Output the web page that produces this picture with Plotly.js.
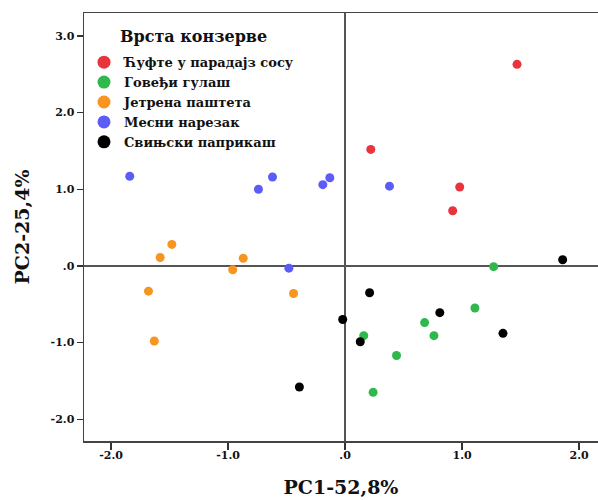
<!DOCTYPE html>
<html>
<head>
<meta charset="utf-8">
<script src="https://cdn.plot.ly/plotly-3.0.1.min.js"></script>
<style>
  html, body { margin: 0; padding: 0; background: #fff; }
  #chart { width: 598px; height: 500px; }
</style>
</head>
<body>
<div id="chart"></div>
<script>
// PCA scores of canned meat products, grouped by product type
const groupNames = [
  "Ћуфте у парадајз сосу",
  "Говеђи гулаш",
  "Јетрена паштета",
  "Месни нарезак",
  "Свињски паприкаш"
];
const groupColors = ["#e8343c", "#2fb84c", "#f7951f", "#5c5cf6", "#000000"];

const pc1Cufte = [1.47, 0.22, 0.98, 0.92];
const pc2Cufte = [2.63, 1.52, 1.03, 0.72];

const pc1Gulas = [1.27, 1.11, 0.68, 0.76, 0.16, 0.44, 0.24];
const pc2Gulas = [-0.01, -0.55, -0.74, -0.91, -0.91, -1.17, -1.65];

const pc1Pasteta = [-1.48, -1.58, -0.87, -0.96, -1.68, -0.44, -1.63];
const pc2Pasteta = [0.28, 0.11, 0.10, -0.05, -0.33, -0.36, -0.98];

const pc1Narezak = [-1.84, -0.62, -0.74, -0.13, -0.19, -0.48, 0.38];
const pc2Narezak = [1.17, 1.16, 1.00, 1.15, 1.06, -0.03, 1.04];

const pc1Paprikas = [1.86, 0.21, -0.02, 0.81, 0.13, 1.35, -0.39];
const pc2Paprikas = [0.08, -0.35, -0.70, -0.61, -0.99, -0.88, -1.58];

const xTickVals = [-2, -1, 0, 1, 2];
const xTickText = ["-2.0", "-1.0", ".0", "1.0", "2.0"];
const yTickVals = [-2, -1, 0, 1, 2, 3];
const yTickText = ["-2.0", "-1.0", ".0", "1.0", "2.0", "3.0"];

const legendTitle = "Врста конзерве";
const xTitle = "PC1-52,8%";
const yTitle = "PC2-25,4%";

const serif = "'DejaVu Serif', 'Liberation Serif', serif";

const series = [
  [pc1Cufte, pc2Cufte],
  [pc1Gulas, pc2Gulas],
  [pc1Pasteta, pc2Pasteta],
  [pc1Narezak, pc2Narezak],
  [pc1Paprikas, pc2Paprikas]
];

const traces = [];
// scatter points
series.forEach(function (s, i) {
  traces.push({
    type: "scatter",
    mode: "markers",
    x: s[0],
    y: s[1],
    name: groupNames[i],
    showlegend: false,
    marker: { color: groupColors[i], size: 9, line: { width: 0 } },
    hoverinfo: "x+y+name"
  });
});
// legend entries with larger symbols
groupNames.forEach(function (n, i) {
  traces.push({
    type: "scatter",
    mode: "markers",
    x: [null],
    y: [null],
    name: n,
    showlegend: true,
    marker: { color: groupColors[i], size: 13, line: { width: 0 } }
  });
});

const layout = {
  width: 598,
  height: 500,
  margin: { l: 84, r: 0, t: 13, b: 59 },
  paper_bgcolor: "#ffffff",
  plot_bgcolor: "#ffffff",
  font: { family: serif, color: "#111111" },
  showlegend: true,
  legend: {
    x: 0.0, y: 0.92, xanchor: "left", yanchor: "top",
    bgcolor: "rgba(0,0,0,0)",
    font: { family: serif, size: 13, color: "#111111", weight: "bold" },
    tracegroupgap: 0,
    itemwidth: 30
  },
  xaxis: {
    range: [-2.231, 2.162],
    tickvals: xTickVals,
    ticktext: xTickText,
    ticks: "outside",
    ticklen: 7,
    tickwidth: 1.3,
    tickcolor: "#333",
    ticklabelstandoff: -4,
    showgrid: false,
    zeroline: true,
    zerolinecolor: "#555",
    zerolinewidth: 1.5,
    showline: true,
    linecolor: "#444",
    linewidth: 1.5,
    mirror: true,
    tickfont: { family: serif, size: 11, color: "#111", weight: "bold" },
    title: { text: xTitle, font: { family: serif, size: 19, color: "#111", weight: "bold" }, standoff: 20 }
  },
  yaxis: {
    range: [-2.285, 3.30],
    tickvals: yTickVals,
    ticktext: yTickText,
    ticks: "outside",
    ticklen: 6,
    tickwidth: 1.3,
    tickcolor: "#333",
    showgrid: false,
    zeroline: true,
    zerolinecolor: "#555",
    zerolinewidth: 1.5,
    showline: true,
    linecolor: "#444",
    linewidth: 1.5,
    mirror: false,
    tickfont: { family: serif, size: 11, color: "#111", weight: "bold" },
    title: { text: yTitle, font: { family: serif, size: 19, color: "#111", weight: "bold" }, standoff: 16 }
  },
  annotations: [
    {
      text: legendTitle,
      xref: "paper", yref: "paper",
      x: 0.066, y: 0.972, xanchor: "left", yanchor: "top",
      showarrow: false,
      font: { family: serif, size: 16, color: "#111", weight: "bold" }
    }
  ]
};

Plotly.newPlot("chart", traces, layout, { displayModeBar: false, staticPlot: true });
</script>
</body>
</html>
